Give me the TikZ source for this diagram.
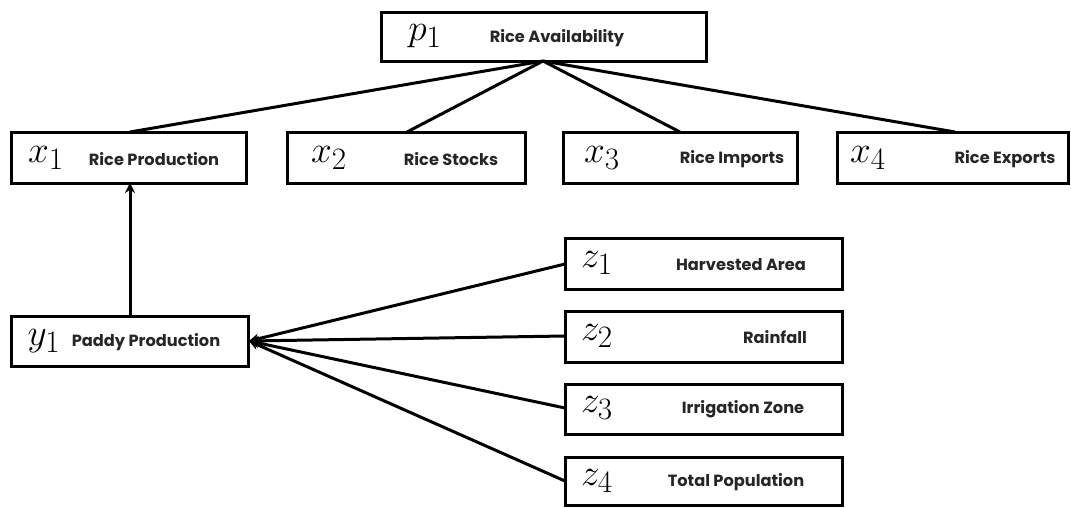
\documentclass[tikz,border=0pt]{standalone}
\usepackage{graphicx}
\usepackage{fontspec}
\setsansfont{Poppins}
\usetikzlibrary{arrows.meta}
\newcommand{\bigmath}[1]{\scalebox{1.5}{\fontsize{24.88}{28}\selectfont$#1$}}
\begin{document}
\begin{tikzpicture}[x=1pt,y=-1pt,
  box/.style={draw=black,line width=3pt,fill=white},
  mlab/.style={inner sep=0pt},
  tlab/.style={font=\sffamily\bfseries\fontsize{16.2}{18}\selectfont,text=black!85,inner sep=0pt},
  link/.style={line width=3pt,black},
  arr/.style={link,-{Stealth[length=10pt,width=10pt]}}]
\useasboundingbox (0,0) rectangle (1071,507);
% boxes
\draw[box] (381,12) rectangle (706,61);
\coordinate (p1b) at (543,61);
\draw[box] (11,132) rectangle (246,183);
\coordinate (x1t) at (130,132); \coordinate (x1b) at (130,183);
\draw[box] (287,132) rectangle (525,183);
\coordinate (x2t) at (407,132);
\draw[box] (563,132) rectangle (797,183);
\coordinate (x3t) at (680,132);
\draw[box] (837,132) rectangle (1068,183);
\coordinate (x4t) at (955,132);
\draw[box] (11,316) rectangle (248,366);
\coordinate (y1t) at (130,316); \coordinate (y1r) at (249,341);
\draw[box] (565,238) rectangle (842,289);
\coordinate (z1l) at (565,264);
\draw[box] (565,311) rectangle (842,362);
\coordinate (z2l) at (565,336);
\draw[box] (565,384) rectangle (842,434);
\coordinate (z3l) at (565,408);
\draw[box] (565,457) rectangle (842,505);
\coordinate (z4l) at (565,481);
% labels
\node[mlab] (p1m) at (425,36) {\bigmath{p_1}};
\node[tlab] (p1t) at (557,38) {Rice Availability};
\node[mlab] (x1m) at (46,158) {\bigmath{x_1}};
\node[tlab] (x1n) at (154,159) {Rice Production};
\node[mlab] (x2m) at (329,158) {\bigmath{x_2}};
\node[tlab] (x2n) at (451,159) {Rice Stocks};
\node[mlab] (x3m) at (602,158) {\bigmath{x_3}};
\node[tlab] (x3n) at (732,159) {Rice Imports};
\node[mlab] (x4m) at (868,158) {\bigmath{x_4}};
\node[tlab] (x4n) at (1005,159) {Rice Exports};
\node[mlab] (y1m) at (44,341) {\bigmath{y_1}};
\node[tlab] (y1n) at (146,342) {Paddy Production};
\node[mlab] (z1m) at (597,263) {\bigmath{z_1}};
\node[tlab] (z1n) at (741,265) {Harvested Area};
\node[mlab] (z2m) at (597,336) {\bigmath{z_2}};
\node[tlab] (z2n) at (775,337) {Rainfall};
\node[mlab] (z3m) at (597,408) {\bigmath{z_3}};
\node[tlab] (z3n) at (743,409) {Irrigation Zone};
\node[mlab] (z4m) at (597,481) {\bigmath{z_4}};
\node[tlab] (z4n) at (736,482) {Total Population};
% connectors
\draw[link] (p1b) -- (x1t);
\draw[link] (p1b) -- (x2t);
\draw[link] (p1b) -- (x3t);
\draw[link] (p1b) -- (x4t);
\draw[arr] (y1t) -- (x1b);
\draw[arr] (z1l) -- (y1r);
\draw[arr] (z2l) -- (y1r);
\draw[arr] (z3l) -- (y1r);
\draw[arr] (z4l) -- (y1r);
\end{tikzpicture}
\end{document}
